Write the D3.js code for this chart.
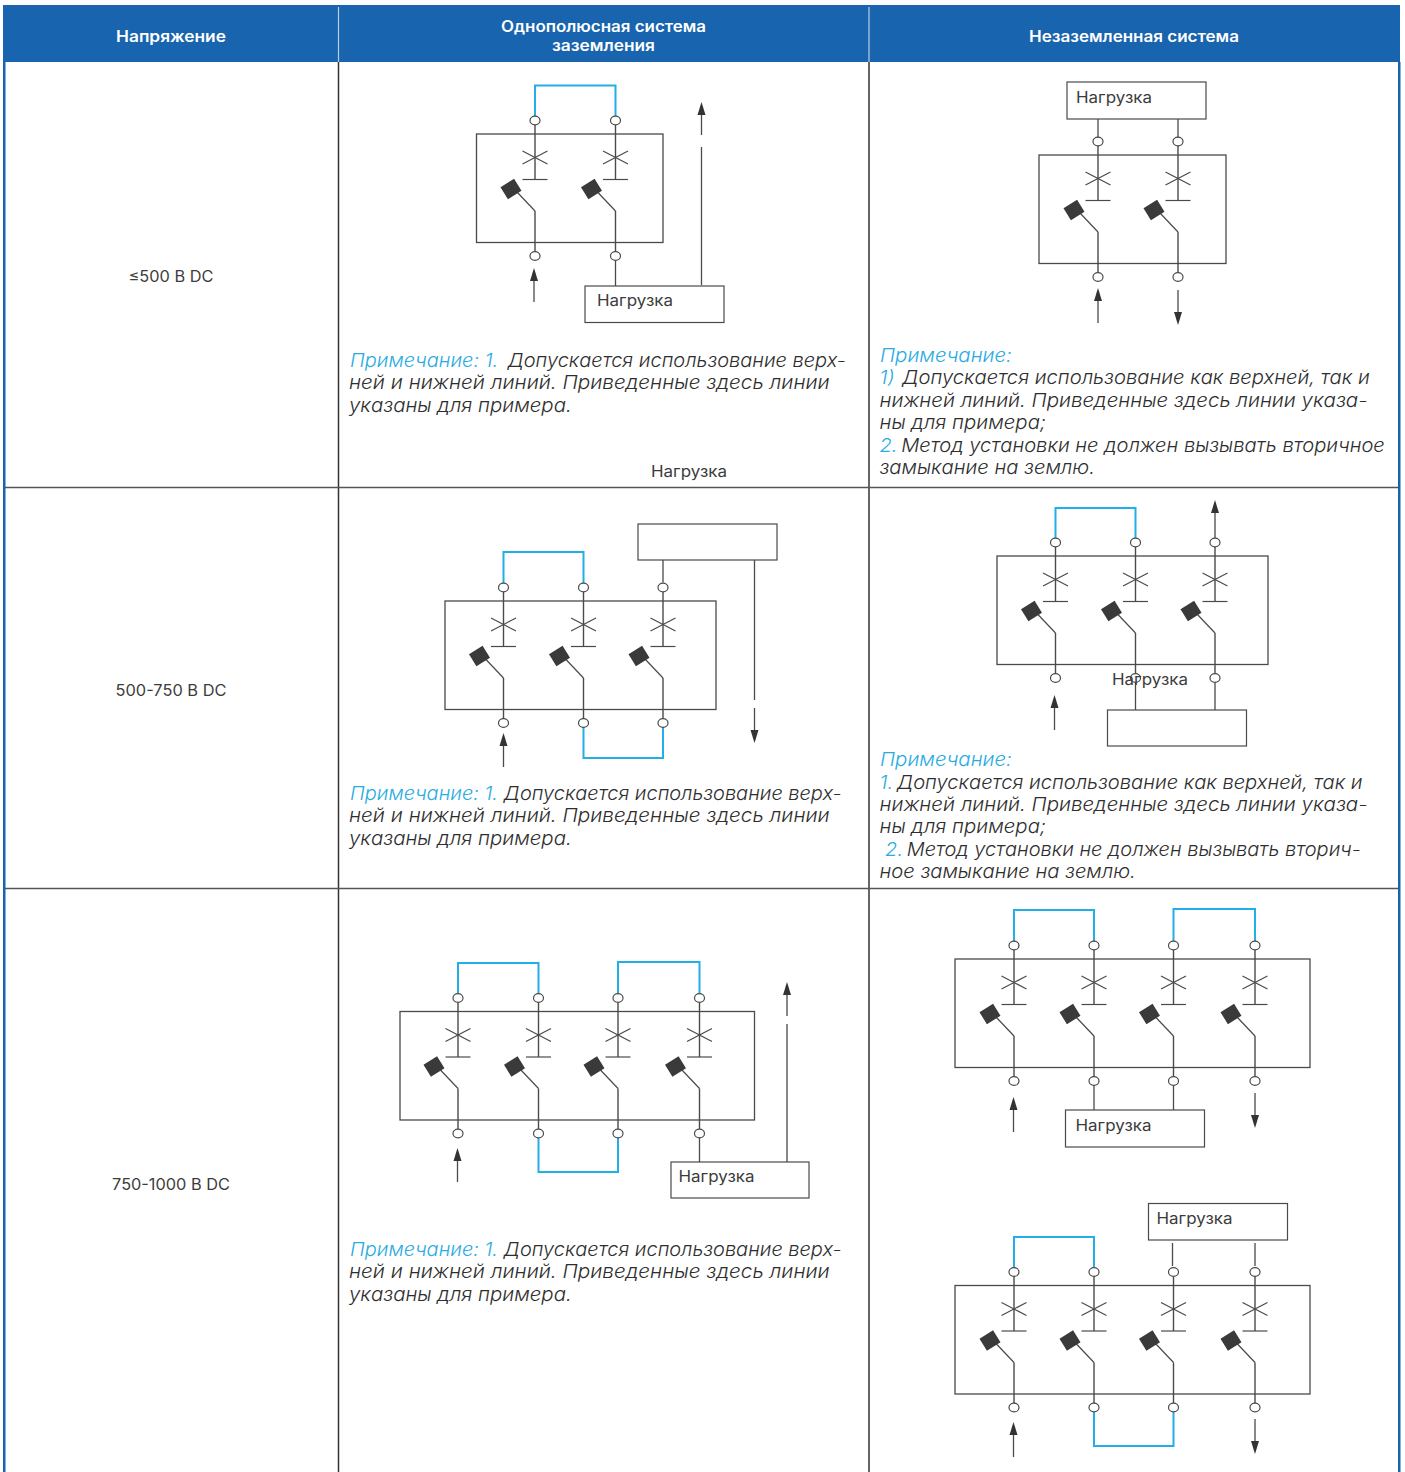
<!DOCTYPE html>
<html>
<head>
<meta charset="utf-8">
<script src="https://cdn.jsdelivr.net/npm/d3@7"></script>
<style>
    html, body { margin: 0; padding: 0; background: #fff; }
    svg { display: block; }
    text { font-family: Inter, "Open Sans", sans-serif; white-space: pre; }
</style>
</head>
<body>
<div id="chart"></div>
<script>
// table content
const headers = [["Напряжение"], ["Однополюсная система", "заземления"], ["Незаземленная система"]];
const voltages = ["≤500 В DC", "500-750 В DC", "750-1000 В DC"];
const loadText = "Нагрузка";

// note lines: each line is a list of [text, isBlue] runs
const noteShort = [
    [["Примечание: 1.", true], [" Допускается использование верх-", false]],
    [["ней и нижней линий. Приведенные здесь линии", false]],
    [["указаны для примера.", false]]
];
const noteFirst = [
    [["Примечание: 1.", true], [" \u2009Допускается использование верх-", false]],
    [["ней и нижней линий. Приведенные здесь линии", false]],
    [["указаны для примера.", false]]
];
const noteLongA = [
    [["Примечание:", true]],
    [["1)", true], [" \u200aДопускается использование как верхней, так и", false]],
    [["нижней линий. Приведенные здесь линии указа-", false]],
    [["ны для примера;", false]],
    [["2.", true], ["\u2009Метод установки не должен вызывать вторичное", false]],
    [["замыкание на землю.", false]]
];
const noteLongB = [
    [["Примечание:", true]],
    [["1.", true], ["\u2009Допускается использование как верхней, так и", false]],
    [["нижней линий. Приведенные здесь линии указа-", false]],
    [["ны для примера;", false]],
    [[" 2.", true], ["\u2009Метод установки не должен вызывать вторич-", false]],
    [["ное замыкание на землю.", false]]
];

// schematic content, one entry per diagram
const poleCounts = [2, 2, 3, 3, 4, 4, 4];
const topJumpers = [[[0, 1]], [], [[0, 1]], [[0, 1]], [[0, 1], [2, 3]], [[0, 1], [2, 3]], [[0, 1]]];
const bottomJumpers = [[], [], [[1, 2]], [], [[1, 2]], [], [[1, 2]]];
const loadLabels = [loadText, loadText, "", "", loadText, loadText, loadText];

// ---- layout (pixels) ----
const W = 1405, H = 1472;
const columnEdges = [3, 338.5, 869, 1400];
const rowEdges = [5, 62, 487.5, 888.5, 1472];
const blue = "#1864ae", cyan = "#29abe2", jumperBlue = "#22aee6", ink = "#3c3c3c", wire = "#4a4a4a";

const diagramLayout = [
    { box: [476.5, 134], width: 186.5, poles: [58.5, 139], jumperTop: [85.5], jumperBottom: [],
      load: [585, 286, 139, 36.5], label: [12, 20], links: [[615.5, 260.5, 286]], wires: [[701.5, 147, 285]],
      arrows: [[534, 302, 268], [701.5, 135, 102]] },
    { box: [1039, 155], width: 187, poles: [59, 139], jumperTop: [], jumperBottom: [],
      load: [1067, 82, 139, 37], label: [9, 21], links: [[1098, 119, 137.5], [1178, 119, 137.5]], wires: [],
      arrows: [[1098, 323, 288], [1178, 290, 325]] },
    { box: [445, 601], width: 271, poles: [58.5, 138.5, 218], jumperTop: [552], jumperBottom: [758],
      load: [638, 524, 139, 36], label: [0, 0], links: [[663, 560, 582.5]], wires: [[754.5, 560, 700]],
      arrows: [[503.5, 767, 733], [754.5, 708, 743]] },
    { box: [997, 556], width: 271, poles: [58.5, 138.5, 218], jumperTop: [508], jumperBottom: [],
      load: [1107.5, 710, 139, 36], label: [0, 0], links: [[1135.5, 682.5, 710], [1215, 682.5, 710]], wires: [],
      arrows: [[1054.5, 730, 695], [1215, 538, 500]] },
    { box: [400, 1011.5], width: 354.5, poles: [58, 138.5, 218, 299.5], jumperTop: [963, 962], jumperBottom: [1172],
      load: [671, 1162, 138, 36], label: [7.5, 20], links: [[699.5, 1137.5, 1162]], wires: [[787, 1024, 1162]],
      arrows: [[457.5, 1182, 1148], [787, 1016, 982]] },
    { box: [955, 959], width: 355, poles: [59, 139, 218.5, 300], jumperTop: [910, 909], jumperBottom: [],
      load: [1065.5, 1110, 139, 37], label: [10, 21], links: [[1094, 1085.5, 1110], [1173.5, 1085.5, 1110]], wires: [],
      arrows: [[1013.5, 1132, 1097], [1255, 1093, 1128]] },
    { box: [955, 1285.5], width: 355, poles: [59, 139, 218.5, 300], jumperTop: [1237], jumperBottom: [1446],
      load: [1148.5, 1203.5, 139, 36.5], label: [8, 20.5], links: [[1172.5, 1243, 1266], [1255, 1243, 1266]], wires: [],
      arrows: [[1013.5, 1457, 1422], [1255, 1419, 1454]] }
];

const noteLayout = [
    { lines: noteFirst, x: [350, 349, 349], y: [367, 389.5, 412], end: [846, 830, 572] },
    { lines: noteLongA, x: [880, 879.5, 879.5, 879.5, 879.5, 879.5], y: [362.5, 384.5, 407.5, 429.5, 452.5, 474.5], end: [1012, 1370, 1368, 1046, 1385, 1095] },
    { lines: noteShort, x: [350, 349, 349], y: [800.5, 822.5, 845.5], end: [842, 830, 572] },
    { lines: noteLongB, x: [880, 879.5, 879.5, 879.5, 879.5, 879.5], y: [766.5, 789.5, 811.5, 833.5, 856.5, 878.5], end: [1012, 1363, 1368, 1046, 1361, 1136] },
    { lines: noteShort, x: [350, 349, 349], y: [1256.5, 1278.5, 1301.5], end: [842, 830, 572] }
];

const strayLabels = [[651, 477], [1112, 685]];

const svg = d3.select("#chart").append("svg")
    .attr("width", W)
    .attr("height", H);

const x = d3.scaleOrdinal().domain(d3.range(columnEdges.length)).range(columnEdges);
const y = d3.scaleOrdinal().domain(d3.range(rowEdges.length)).range(rowEdges);

// the installed fonts run narrower than the original, so widen each text about
// its own x until it is as long as the reference line
function fit(sel, widthOf) {
    sel.each(function (d, i) {
        const node = d3.select(this);
        const ax = +node.attr("x");
        const k = widthOf(d, i) / this.getComputedTextLength();
        node.attr("transform", `translate(${ax},0) scale(${k},1) translate(${-ax},0)`);
    });
}

// ---- table frame ----
svg.append("rect")
    .attr("x", x(0)).attr("y", y(0))
    .attr("width", x(3) - x(0)).attr("height", y(1) - y(0))
    .attr("fill", blue);

svg.selectAll(".edge")
    .data([x(0) + 1.25, x(3) - 0.75])
    .join("line")
    .attr("class", "edge")
    .attr("x1", d => d).attr("x2", d => d)
    .attr("y1", y(1)).attr("y2", H)
    .attr("stroke", blue)
    .attr("stroke-width", 2.5);

svg.selectAll(".header-sep")
    .data([1, 2])
    .join("line")
    .attr("class", "header-sep")
    .attr("x1", d => x(d)).attr("x2", d => x(d))
    .attr("y1", y(0) + 2).attr("y2", y(1))
    .attr("stroke", "#b9cde3")
    .attr("stroke-width", 1.2);

svg.selectAll(".col-sep")
    .data([1, 2])
    .join("line")
    .attr("class", "col-sep")
    .attr("x1", d => x(d)).attr("x2", d => x(d))
    .attr("y1", y(1)).attr("y2", H)
    .attr("stroke", "#333")
    .attr("stroke-width", 1.5);

svg.selectAll(".row-sep")
    .data([2, 3])
    .join("line")
    .attr("class", "row-sep")
    .attr("x1", x(0) + 2).attr("x2", x(3) - 2)
    .attr("y1", d => y(d)).attr("y2", d => y(d))
    .attr("stroke", "#555")
    .attr("stroke-width", 1.5);

// ---- header and voltage text ----
const headerCenters = [171, 603.5, 1134];
const headerWidths = [[110], [205, 103], [210]];
const headerBaselines = [[42], [32, 51], [42]];
headers.forEach((lines, c) => {
    const t = svg.selectAll(".head" + c)
        .data(lines)
        .join("text")
        .attr("class", "head" + c)
        .attr("x", headerCenters[c])
        .attr("y", (d, i) => headerBaselines[c][i])
        .attr("text-anchor", "middle")
        .attr("fill", "#fff")
        .attr("font-size", 15.5)
        .attr("font-weight", 600)
        .text(d => d);
    fit(t, (d, i) => headerWidths[c][i]);
});

const voltageBaselines = [282, 696, 1190];
const voltageWidths = [85, 111, 118];
const vt = svg.selectAll(".voltage")
    .data(voltages)
    .join("text")
    .attr("class", "voltage")
    .attr("x", headerCenters[0])
    .attr("y", (d, i) => voltageBaselines[i])
    .attr("text-anchor", "middle")
    .attr("fill", ink)
    .attr("font-size", 15.5)
    .text(d => d);
fit(vt, (d, i) => voltageWidths[i]);

// ---- notes ----
noteLayout.forEach(note => {
    const t = svg.append("g").selectAll("text")
        .data(note.lines)
        .join("text")
        .attr("x", (d, i) => note.x[i])
        .attr("y", (d, i) => note.y[i])
        .attr("font-size", 18.5)
        .attr("font-style", "italic")
        .attr("font-weight", 300);
    t.selectAll("tspan")
        .data(d => d)
        .join("tspan")
        .attr("fill", d => d[1] ? cyan : "#2e2e2e")
        .text(d => d[0]);
    fit(t, (d, i) => note.end[i] - note.x[i]);
});

// ---- schematics ----
const boxH = 108.5;
const levels = {
    termTop: -13.5, crossMid: 23.5, bar: 45.5, pivot: 77, arm: 58,
    block: 55, termBottom: 122
};

function vline(g, xv, y1, y2, color, w) {
    return g.append("line")
        .attr("x1", xv).attr("x2", xv)
        .attr("y1", y1).attr("y2", y2)
        .attr("stroke", color)
        .attr("stroke-width", w);
}

diagramLayout.forEach((lay, k) => {
    const g = svg.append("g");
    const [left, top] = lay.box;
    const poleIdx = d3.range(poleCounts[k]);
    const px = d3.scaleLinear().domain(poleIdx).range(lay.poles.map(p => left + p));
    const py = v => top + v;

    // jumpers go behind the terminals
    const jumper = d3.line();
    const drawJumper = (pair, yv, from) => g.append("path")
        .attr("d", jumper([[px(pair[0]), from], [px(pair[0]), yv], [px(pair[1]), yv], [px(pair[1]), from]]))
        .attr("fill", "none")
        .attr("stroke", jumperBlue)
        .attr("stroke-width", 2);
    topJumpers[k].forEach((p, i) => drawJumper(p, lay.jumperTop[i], py(levels.termTop - 4)));
    bottomJumpers[k].forEach((p, i) => drawJumper(p, lay.jumperBottom[i], py(levels.termBottom + 4)));

    // enclosure
    g.append("rect")
        .attr("x", left).attr("y", top)
        .attr("width", lay.width).attr("height", boxH)
        .attr("fill", "none")
        .attr("stroke", wire)
        .attr("stroke-width", 1.3);

    poleIdx.forEach(p => {
        const cx = px(p);
        vline(g, cx, py(levels.termTop), py(levels.bar), wire, 1.4);
        vline(g, cx, py(levels.pivot), py(levels.termBottom), wire, 1.4);

        // breaker cross and contact bar
        [-1, 1].forEach(s => g.append("line")
            .attr("x1", cx - 12.5).attr("x2", cx + 12.5)
            .attr("y1", py(levels.crossMid - s * 6.5)).attr("y2", py(levels.crossMid + s * 6.5))
            .attr("stroke", wire).attr("stroke-width", 1.2));
        g.append("line")
            .attr("x1", cx - 12.5).attr("x2", cx + 12.5)
            .attr("y1", py(levels.bar)).attr("y2", py(levels.bar))
            .attr("stroke", wire).attr("stroke-width", 1.2);

        // switch arm and handle
        g.append("line")
            .attr("x1", cx).attr("y1", py(levels.pivot))
            .attr("x2", cx - 18).attr("y2", py(levels.arm))
            .attr("stroke", wire).attr("stroke-width", 1.2);
        g.append("rect")
            .attr("x", -8).attr("y", -7)
            .attr("width", 16).attr("height", 14)
            .attr("transform", `translate(${cx - 24},${py(levels.block)}) rotate(-32)`)
            .attr("fill", "#3a3a3a");

        // terminals
        g.selectAll(null)
            .data([levels.termTop, levels.termBottom])
            .join("ellipse")
            .attr("cx", cx)
            .attr("cy", d => py(d))
            .attr("rx", 5).attr("ry", 4.4)
            .attr("fill", "#fff")
            .attr("stroke", wire)
            .attr("stroke-width", 1.2);
    });

    // load box
    const [lx, ly, lw, lh] = lay.load;
    g.append("rect")
        .attr("x", lx).attr("y", ly)
        .attr("width", lw).attr("height", lh)
        .attr("fill", "#fff")
        .attr("stroke", wire)
        .attr("stroke-width", 1.2);
    if (loadLabels[k]) {
        const lt = g.append("text")
            .attr("x", lx + lay.label[0])
            .attr("y", ly + lay.label[1])
            .attr("fill", ink)
            .attr("font-size", 15.5)
            .text(loadLabels[k]);
        fit(lt, () => 76);
    }

    lay.links.concat(lay.wires).forEach(s => vline(g, s[0], s[1], s[2], wire, 1.3));

    // arrows: [x, tail y, tip y]
    lay.arrows.forEach(([ax, tail, tip]) => {
        const dir = tip < tail ? 1 : -1;
        const headLen = 13;
        vline(g, ax, tail, tip + dir * headLen, wire, 1.3);
        g.append("path")
            .attr("d", d3.line()([[ax, tip], [ax - 4, tip + dir * headLen], [ax + 4, tip + dir * headLen]]) + "Z")
            .attr("fill", "#333");
    });
});

// ---- stray load labels sitting outside their boxes, drawn over the terminals ----
const stray = svg.selectAll(".stray")
    .data(strayLabels)
    .join("text")
    .attr("class", "stray")
    .attr("x", d => d[0])
    .attr("y", d => d[1])
    .attr("fill", ink)
    .attr("font-size", 15.5)
    .text(loadText);
fit(stray, () => 76);
</script>
</body>
</html>
